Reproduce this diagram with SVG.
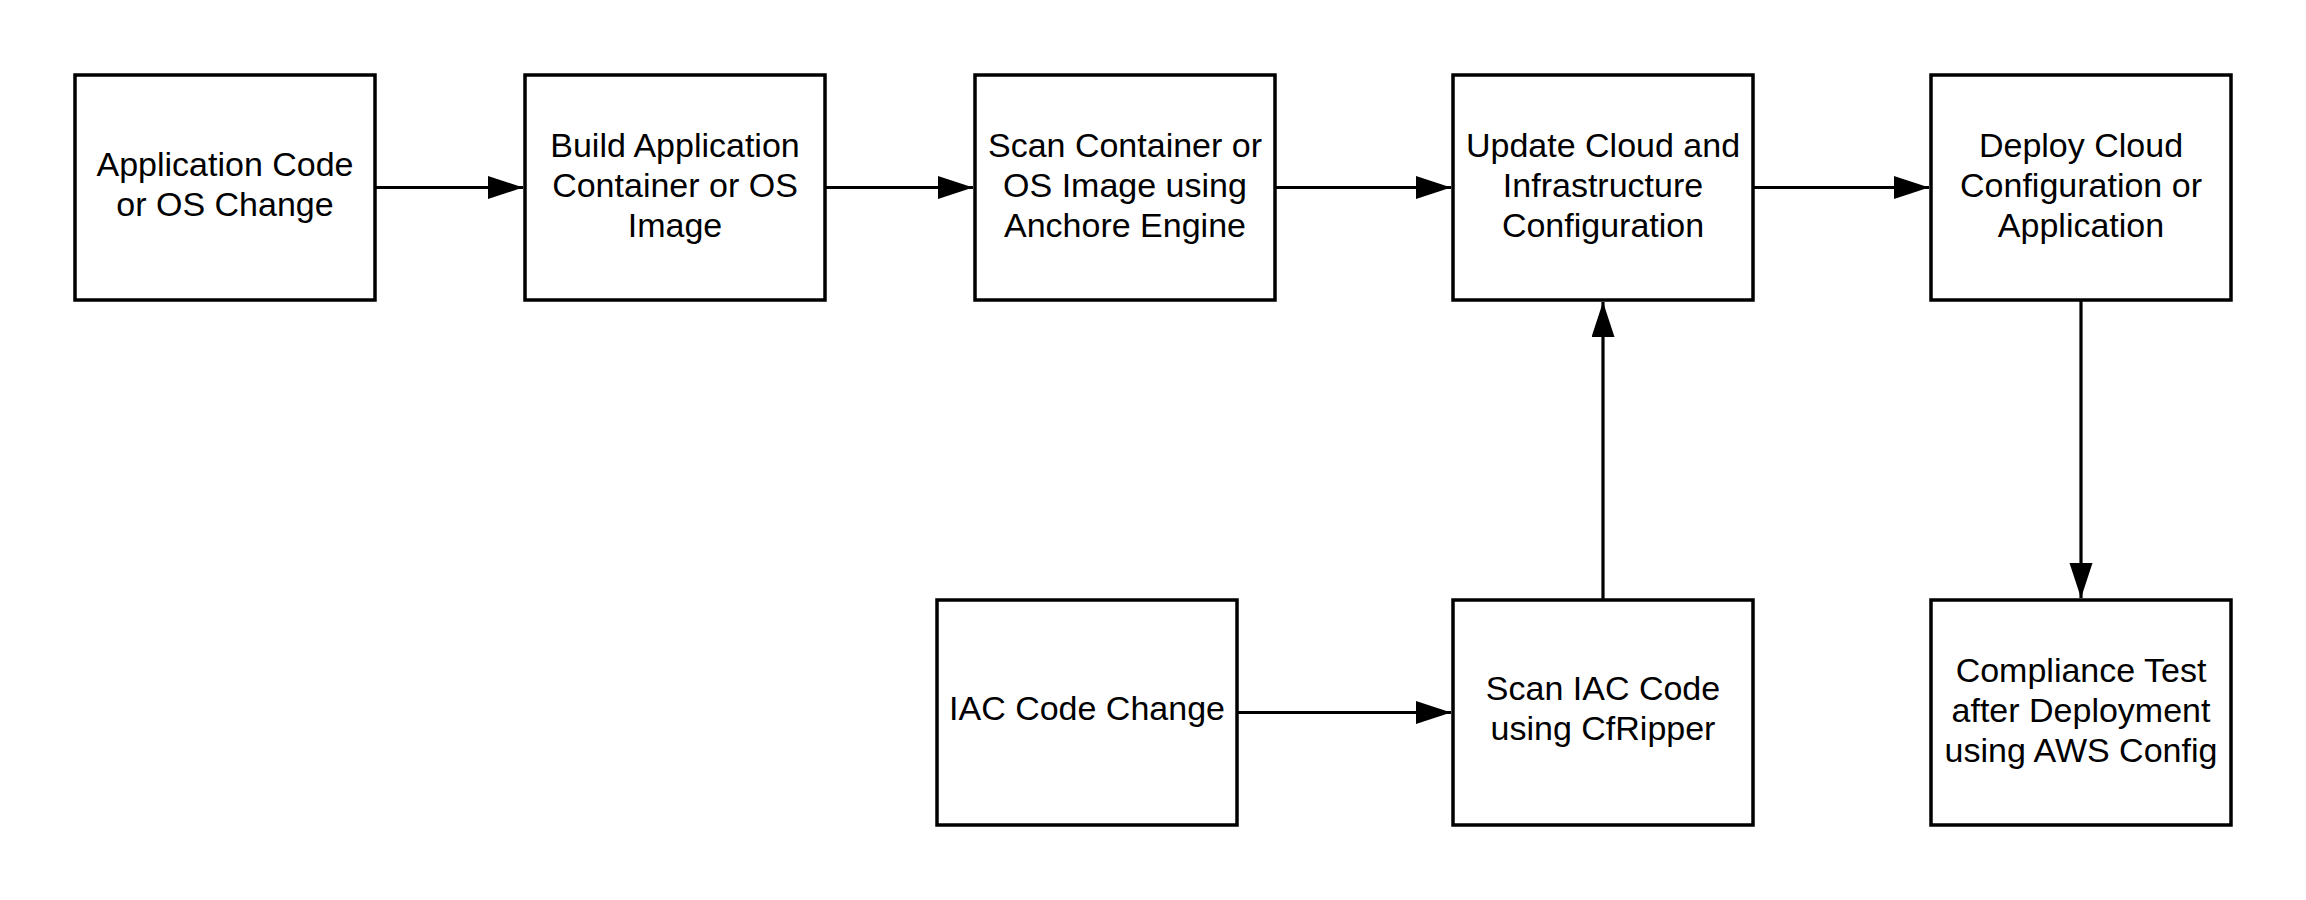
<svg xmlns="http://www.w3.org/2000/svg" width="2306" height="900" viewBox="0 0 2306 900">
<style>
.box{fill:#fff;stroke:#000;stroke-width:3.5}
.t{font-family:"Liberation Sans",Arial,sans-serif;font-size:34px;fill:#000;text-anchor:middle}
.c{stroke:#000;stroke-width:3.2;fill:none}
</style>
<defs>
<marker id="ah" markerUnits="userSpaceOnUse" markerWidth="36" markerHeight="24" refX="35" refY="11.5" orient="auto">
<path d="M0,0 L35,11.5 L0,23 Z" fill="#000"/>
</marker>
</defs>
<rect width="2306" height="900" fill="#fff"/>
<g id="connectors">
<line class="c" x1="375" y1="187.5" x2="523" y2="187.5" marker-end="url(#ah)"/>
<line class="c" x1="825" y1="187.5" x2="973" y2="187.5" marker-end="url(#ah)"/>
<line class="c" x1="1275" y1="187.5" x2="1451" y2="187.5" marker-end="url(#ah)"/>
<line class="c" x1="1753" y1="187.5" x2="1929" y2="187.5" marker-end="url(#ah)"/>
<line class="c" x1="2081" y1="300" x2="2081" y2="598" marker-end="url(#ah)"/>
<line class="c" x1="1603" y1="600" x2="1603" y2="302" marker-end="url(#ah)"/>
<line class="c" x1="1237" y1="712.5" x2="1451" y2="712.5" marker-end="url(#ah)"/>
</g>
<g id="n1"><rect class="box" x="75" y="75" width="300" height="225"/>
<text class="t" x="225" y="176">Application Code</text><text class="t" x="225" y="216">or OS Change</text></g>
<g id="n2"><rect class="box" x="525" y="75" width="300" height="225"/>
<text class="t" x="675" y="157">Build Application</text><text class="t" x="675" y="197">Container or OS</text><text class="t" x="675" y="237">Image</text></g>
<g id="n3"><rect class="box" x="975" y="75" width="300" height="225"/>
<text class="t" x="1125" y="157">Scan Container or</text><text class="t" x="1125" y="197">OS Image using</text><text class="t" x="1125" y="237">Anchore Engine</text></g>
<g id="n4"><rect class="box" x="1453" y="75" width="300" height="225"/>
<text class="t" x="1603" y="157">Update Cloud and</text><text class="t" x="1603" y="197">Infrastructure</text><text class="t" x="1603" y="237">Configuration</text></g>
<g id="n5"><rect class="box" x="1931" y="75" width="300" height="225"/>
<text class="t" x="2081" y="157">Deploy Cloud</text><text class="t" x="2081" y="197">Configuration or</text><text class="t" x="2081" y="237">Application</text></g>
<g id="n6"><rect class="box" x="937" y="600" width="300" height="225"/>
<text class="t" x="1087" y="720">IAC Code Change</text></g>
<g id="n7"><rect class="box" x="1453" y="600" width="300" height="225"/>
<text class="t" x="1603" y="700">Scan IAC Code</text><text class="t" x="1603" y="740">using CfRipper</text></g>
<g id="n8"><rect class="box" x="1931" y="600" width="300" height="225"/>
<text class="t" x="2081" y="682">Compliance Test</text><text class="t" x="2081" y="722">after Deployment</text><text class="t" x="2081" y="762">using AWS Config</text></g>
</svg>
